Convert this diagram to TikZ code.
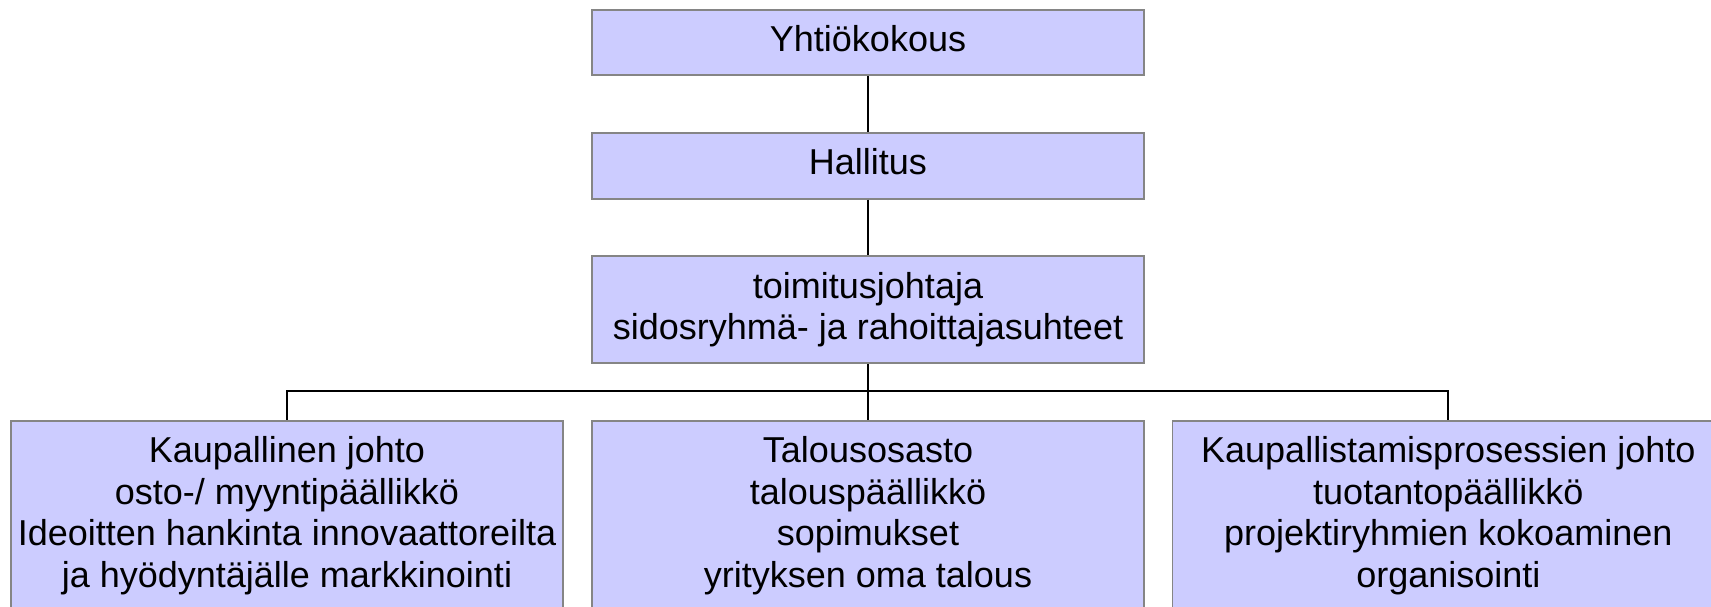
\documentclass[tikz,border=0pt]{standalone}
\usepackage{fontspec}
\setmainfont{Liberation Sans}
\definecolor{boxfill}{HTML}{CCCCFF}
\definecolor{boxline}{HTML}{858585}
\newcommand\bstr{\rule[-7.6pt]{0pt}{28.6pt}}
\begin{document}
\begin{tikzpicture}[x=1pt,y=-1pt,
  orgbox/.style={draw=boxline, line width=1.8pt, fill=boxfill, minimum width=551.5pt,
    inner sep=0pt, align=center, font=\fontsize{36}{41.4}\selectfont},
  conn/.style={draw=black, line width=2pt}]
\useasboundingbox (0,0) rectangle (1711,607);
\clip (0,0) rectangle (1711,607);
\fill[white] (0,0) rectangle (1711,607);
\node[orgbox, minimum height=65.3pt] (yk) at (868,42.7) {\bstr Yhtiökokous};
\node[orgbox, minimum height=66pt] (hal) at (868,165.7) {\bstr Hallitus};
\node[orgbox, minimum height=107.3pt] (tj) at (868,309.7) {\bstr toimitusjohtaja\\sidosryhmä- ja rahoittajasuhteet\bstr};
\node[orgbox, minimum height=190pt] (kj) at (287,515.7) {\bstr Kaupallinen johto\\osto-/ myyntipäällikkö\\Ideoitten hankinta innovaattoreilta\\ja hyödyntäjälle markkinointi\bstr};
\node[orgbox, minimum height=190pt] (to) at (868,515.7) {\bstr Talousosasto\\talouspäällikkö\\sopimukset\\yrityksen oma talous\bstr};
\node[orgbox, minimum height=190pt] (kp) at (1448.3,515.7) {\bstr Kaupallistamisprosessien johto\\tuotantopäällikkö\\projektiryhmien kokoaminen\\organisointi\bstr};
\coordinate (bus) at (868,391.3);
\draw[conn] (yk.south) -- (hal.north);
\draw[conn] (hal.south) -- (tj.north);
\draw[conn] (tj.south) -- (bus) -- (to.north);
\draw[conn] (kj.north) |- (bus);
\draw[conn] (kp.north) |- (bus);
\end{tikzpicture}
\end{document}
